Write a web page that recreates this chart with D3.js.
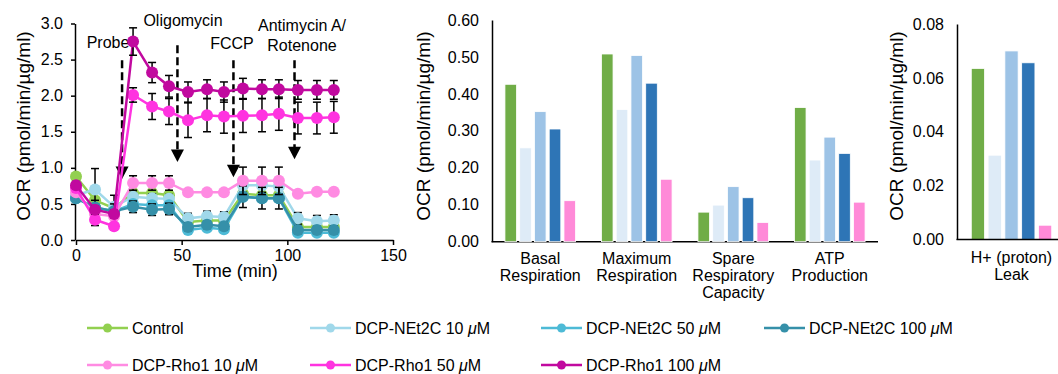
<!DOCTYPE html>
<html><head><meta charset="utf-8">
<script src="https://cdn.jsdelivr.net/npm/d3@7"></script>
<style>
body{margin:0;background:#fff;}
svg text{font-family:"Liberation Sans",Arial,Helvetica,sans-serif;fill:#000;}
</style></head><body>
<svg id="c" width="1058" height="374"></svg>
<script>
// ---------- DATA ----------
const times = [0, 9, 18, 27, 36, 44, 53, 62, 70, 79, 88, 96, 105, 114, 122];
const seriesNames = ["Control","DCP-NEt2C 10","DCP-NEt2C 50","DCP-NEt2C 100","DCP-Rho1 10","DCP-Rho1 50","DCP-Rho1 100"];
const lineColors = ["#92D050","#A0D8EA","#4DBAD6","#3590A9","#FF8BE2","#FF33E0","#C1099F"];
const control = [0.88, 0.55, 0.44, 0.65, 0.65, 0.62, 0.25, 0.27, 0.27, 0.64, 0.62, 0.62, 0.18, 0.18, 0.18];
const net10   = [0.62, 0.70, 0.46, 0.60, 0.58, 0.57, 0.30, 0.33, 0.32, 0.76, 0.76, 0.74, 0.30, 0.26, 0.27];
const net50   = [0.58, 0.45, 0.40, 0.50, 0.48, 0.48, 0.14, 0.17, 0.15, 0.60, 0.58, 0.58, 0.10, 0.10, 0.10];
const net100  = [0.58, 0.45, 0.40, 0.46, 0.42, 0.43, 0.18, 0.21, 0.19, 0.60, 0.58, 0.58, 0.14, 0.14, 0.14];
const rho10   = [0.66, 0.36, 0.33, 0.79, 0.79, 0.79, 0.66, 0.66, 0.66, 0.82, 0.82, 0.82, 0.64, 0.67, 0.67];
const rho50   = [0.72, 0.28, 0.19, 2.01, 1.85, 1.78, 1.66, 1.73, 1.71, 1.72, 1.73, 1.75, 1.69, 1.69, 1.70];
const rho100  = [0.76, 0.42, 0.36, 2.75, 2.32, 2.13, 2.05, 2.09, 2.05, 2.10, 2.09, 2.09, 2.08, 2.08, 2.08];
const errControl = [0.03,0.03,0.03,0.03,0.03,0.03,0.03,0.03,0.03,0.03,0.03,0.03,0.03,0.03,0.03];
const errNet10   = [0.05,0.29,0.16,0.06,0.06,0.06,0.07,0.07,0.07,0.10,0.10,0.10,0.08,0.08,0.08];
const errNet50   = [0.03,0.03,0.03,0.03,0.03,0.03,0.03,0.03,0.03,0.03,0.03,0.03,0.03,0.03,0.03];
const errNet100  = [0.05,0.10,0.10,0.08,0.08,0.08,0.05,0.05,0.05,0.15,0.15,0.15,0.05,0.05,0.05];
const errRho10   = [0.05,0.08,0.05,0.10,0.10,0.10,0.03,0.03,0.03,0.19,0.19,0.19,0.03,0.03,0.03];
const errRho50   = [0.05,0.08,0.05,0.10,0.18,0.18,0.24,0.23,0.23,0.23,0.23,0.23,0.22,0.22,0.22];
const errRho100  = [0.05,0.05,0.05,0.19,0.14,0.15,0.14,0.13,0.14,0.14,0.13,0.13,0.13,0.13,0.13];

const injections = ["Probe","Oligomycin","FCCP","Antimycin A/\nRotenone"];
const injTimes = [21.8, 48, 74.5, 103.4];
const injTop = [2.49, 2.70, 2.49, 2.49];
const injTip = [0.845, 1.08, 0.87, 1.12];

const xTicks = [0, 50, 100, 150];
const yTicks = [0, 0.5, 1.0, 1.5, 2.0, 2.5, 3.0];

const barCategories = ["Basal\nRespiration","Maximum\nRespiration","Spare\nRespiratory\nCapacity","ATP\nProduction"];
const barSeries = ["Control","DCP-NEt2C 10","DCP-NEt2C 50","DCP-NEt2C 100","DCP-Rho1"];
const barColors = ["#70AD47","#DEEBF7","#9DC3E6","#2E75B6","#FF8AD8"];
const barControl = [0.426, 0.508, 0.080, 0.363];
const barNet10   = [0.254, 0.358, 0.099, 0.221];
const barNet50   = [0.352, 0.504, 0.149, 0.283];
const barNet100  = [0.305, 0.429, 0.119, 0.239];
const barRho     = [0.111, 0.169, 0.052, 0.107];
const barTicks = [0, 0.1, 0.2, 0.3, 0.4, 0.5, 0.6];

const leakCategory = ["H+ (proton)\nLeak"];
const leakValues = [0.0635, 0.0313, 0.0700, 0.0656, 0.0053];
const leakTicks = [0, 0.02, 0.04, 0.06, 0.08];

const legendLabels = ["Control","DCP-NEt2C 10 ","DCP-NEt2C 50 ","DCP-NEt2C 100 ","DCP-Rho1 10 ","DCP-Rho1 50 ","DCP-Rho1 100 "];

// ---------- DRAW ----------
const svg = d3.select("#c");
const FS = 16;
const TFS = 19;
const yTitle = "OCR (pmol/min/\u00B5g/ml)";

function styleAxis(g){
  g.selectAll("path.domain").attr("stroke","#000").attr("stroke-width",1.5);
  g.selectAll("line").attr("stroke","#000").attr("stroke-width",1.5);
  g.selectAll("text").style("font-size",FS+"px").attr("fill","#000")
    .style("font-family","'Liberation Sans',Arial,sans-serif");
}

// ===== Line chart =====
const lineData = [control, net10, net50, net100, rho10, rho50, rho100];
const errData = [errControl, errNet10, errNet50, errNet100, errRho10, errRho50, errRho100];
const x = d3.scaleLinear().domain([0,150]).range([76,393]);
const y = d3.scaleLinear().domain([0,3]).range([240,23.5]);

const gx = svg.append("g").attr("transform",`translate(0,${y(0)})`)
  .call(d3.axisBottom(x).tickValues(xTicks).tickFormat(d3.format("d")).tickSize(5).tickSizeOuter(0).tickPadding(5));
styleAxis(gx);
const gy = svg.append("g").attr("transform",`translate(${x(0)-1},0)`)
  .call(d3.axisLeft(y).tickValues(yTicks).tickFormat(d3.format(".1f")).tickSize(4).tickSizeOuter(0).tickPadding(8));
styleAxis(gy);

svg.append("text").attr("x",235).attr("y",277).attr("text-anchor","middle")
  .style("font-size","18px").text("Time (min)");
svg.append("text").attr("transform","translate(30,126) rotate(-90)").attr("text-anchor","middle")
  .style("font-size",TFS+"px").text(yTitle);

// injection markers
injTimes.forEach((t,i)=>{
  const xx = x(t);
  svg.append("line").attr("x1",xx).attr("x2",xx).attr("y1",y(injTop[i])).attr("y2",y(injTip[i])-11)
    .attr("stroke","#000").attr("stroke-width",2.5).attr("stroke-dasharray","8,4");
  const tip = y(injTip[i]);
  svg.append("path").attr("d",`M${xx-6.5},${tip-12.5}L${xx+6.5},${tip-12.5}L${xx},${tip}Z`).attr("fill","#000");
});
const labelPos = [[108,48],[183,26],[232,49],[302,31]];
injections.forEach((lab,i)=>{
  const lines = lab.split("\n");
  const t = svg.append("text").attr("text-anchor","middle").style("font-size",FS+"px");
  lines.forEach((ln,j)=>t.append("tspan").attr("x",labelPos[i][0]).attr("y",labelPos[i][1]+j*20).text(ln));
});

const lineGen = d3.line().x((d,i)=>x(times[i])).y(d=>y(d));
lineData.forEach((vals,s)=>{
  const g = svg.append("g");
  g.append("path").datum(vals).attr("d",lineGen).attr("fill","none")
    .attr("stroke",lineColors[s]).attr("stroke-width",2.5);
  const errs = errData[s];
  vals.forEach((v,i)=>{
    const xx = x(times[i]);
    const e = errs[i];
    if(e>0.04){
      g.append("line").attr("x1",xx).attr("x2",xx).attr("y1",y(v+e)).attr("y2",y(v-e)).attr("stroke","#000").attr("stroke-width",1.5);
      [v+e,v-e].forEach(w=>g.append("line").attr("x1",xx-4).attr("x2",xx+4).attr("y1",y(w)).attr("y2",y(w)).attr("stroke","#000").attr("stroke-width",1.5));
    }
  });
  g.selectAll("circle").data(vals).enter().append("circle")
    .attr("cx",(d,i)=>x(times[i])).attr("cy",d=>y(d)).attr("r",6).attr("fill",lineColors[s]);
});

// ===== Bar chart =====
const barData = [barControl, barNet10, barNet50, barNet100, barRho];
const xb = d3.scaleBand().domain(barCategories).range([492,878]).paddingInner(0).paddingOuter(0);
const xb1 = d3.scaleBand().domain(barSeries).range([0,xb.bandwidth()]).paddingInner(0.214).paddingOuter(0.877);
const yb = d3.scaleLinear().domain([0,0.6]).range([241.7,20]);

const gyb = svg.append("g").attr("transform",`translate(492,0)`)
  .call(d3.axisLeft(yb).tickValues(barTicks).tickFormat(d3.format(".2f")).tickSize(0).tickPadding(13));
styleAxis(gyb);
svg.append("line").attr("x1",491.5).attr("x2",878).attr("y1",yb(0)).attr("y2",yb(0)).attr("stroke","#000").attr("stroke-width",1.5);

barCategories.forEach((c,ci)=>{
  barSeries.forEach((s,si)=>{
    const v = barData[si][ci];
    svg.append("rect").attr("x",xb(c)+xb1(s)).attr("width",xb1.bandwidth())
      .attr("y",yb(v)).attr("height",yb(0)-yb(v)).attr("fill",barColors[si])
      .attr("stroke","#fff").attr("stroke-width",0.8);
  });
  const t = svg.append("text").attr("text-anchor","middle").style("font-size",FS+"px");
  c.split("\n").forEach((ln,j)=>t.append("tspan").attr("x",xb(c)+xb.bandwidth()/2).attr("y",264+j*17).text(ln));
});
svg.append("text").attr("transform","translate(430,126) rotate(-90)").attr("text-anchor","middle")
  .style("font-size",TFS+"px").text(yTitle);

// ===== Leak chart =====
const xl = d3.scaleBand().domain(leakCategory).range([957,1066]);
const xl1 = d3.scaleBand().domain(barSeries).range([0,xl.bandwidth()]).paddingInner(0.21).paddingOuter(0.85);
const yl = d3.scaleLinear().domain([0,0.08]).range([239.5,24]);
const gyl = svg.append("g").attr("transform",`translate(957,0)`)
  .call(d3.axisLeft(yl).tickValues(leakTicks).tickFormat(d3.format(".2f")).tickSize(0).tickPadding(13));
styleAxis(gyl);
barSeries.forEach((s,si)=>{
  const v = leakValues[si];
  svg.append("rect").attr("x",xl(leakCategory[0])+xl1(s)).attr("width",xl1.bandwidth())
    .attr("y",yl(v)).attr("height",yl(0)-yl(v)).attr("fill",barColors[si])
    .attr("stroke","#fff").attr("stroke-width",0.8);
});
svg.append("line").attr("x1",956.5).attr("x2",1066).attr("y1",yl(0)).attr("y2",yl(0)).attr("stroke","#000").attr("stroke-width",1.5);
{
  const t = svg.append("text").attr("text-anchor","middle").style("font-size",FS+"px");
  leakCategory[0].split("\n").forEach((ln,j)=>t.append("tspan").attr("x",1011.5).attr("y",263+j*17).text(ln));
}
svg.append("text").attr("transform","translate(903,126) rotate(-90)").attr("text-anchor","middle")
  .style("font-size",TFS+"px").text(yTitle);

// ===== Legend =====
const legPos = [[87,328],[310,328],[541,328],[764,328],[87,365],[310,365],[541,365]];
legendLabels.forEach((lab,i)=>{
  const [lx,ly] = legPos[i];
  const g = svg.append("g");
  g.append("line").attr("x1",lx).attr("x2",lx+41).attr("y1",ly).attr("y2",ly).attr("stroke",lineColors[i]).attr("stroke-width",2.5);
  g.append("circle").attr("cx",lx+20.5).attr("cy",ly).attr("r",4.5).attr("fill",lineColors[i]);
  const t = g.append("text").attr("x",lx+45).attr("y",ly+5.5).style("font-size",FS+"px");
  t.append("tspan").text(lab);
  if(i>0){
    t.append("tspan").style("font-style","italic").text("\u03BC");
    t.append("tspan").text("M");
  }
});
</script>
</body></html>
